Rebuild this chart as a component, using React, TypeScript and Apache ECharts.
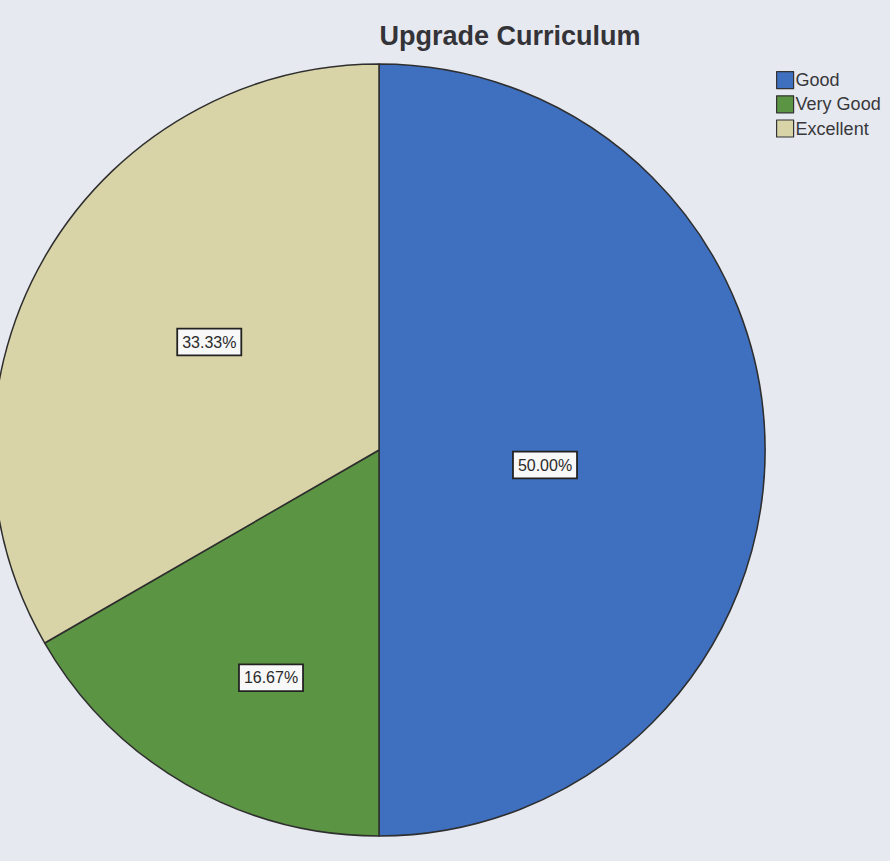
import React, { useEffect, useRef } from "react";
import * as echarts from "echarts";

const categories = ["Good", "Very Good", "Excellent"];
const counts = [3, 1, 2];
const colors = ["#3f6fbf", "#5b9442", "#d9d4a8"];
const chartTitle = "Upgrade Curriculum";

// small per-label nudges (style only) to mimic SPSS label placement
const labelNudge = [
  { dx: -30, dy: 15 },
  { dx: -10, dy: 58 },
  { dx: 0, dy: -10 },
];

export default function App() {
  const ref = useRef<HTMLDivElement>(null);
  useEffect(() => {
    if (!ref.current) return;
    const chart = echarts.init(ref.current, null, { renderer: "svg" });
    const total = counts.reduce((a, b) => a + b, 0);
    chart.setOption({
      animation: false,
      backgroundColor: "#e6e9ef",
      title: {
        text: chartTitle,
        left: 505,
        top: 17,
        textAlign: "center",
        textStyle: {
          fontFamily: "Liberation Sans, Arial, sans-serif",
          fontWeight: "bold",
          fontSize: 27,
          color: "#333338",
        },
      },
      legend: {
        orient: "vertical",
        left: 771,
        top: 66,
        itemWidth: 17,
        itemHeight: 17,
        itemGap: 6,
        icon: "rect",
        data: categories,
        itemStyle: { borderColor: "#333", borderWidth: 1.2 },
        textStyle: {
          fontFamily: "Liberation Sans, Arial, sans-serif",
          fontSize: 18,
          color: "#38383c",
          padding: [0, 0, 0, -3],
        },
      },
      series: [
        {
          type: "pie",
          center: [379, 450],
          radius: 386,
          startAngle: 90,
          clockwise: true,
          avoidLabelOverlap: false,
          emphasis: { disabled: true },
          itemStyle: { borderColor: "#2e2e2e", borderWidth: 1.5 },
          label: {
            show: true,
            position: "inside",
            formatter: (p: any) => ((p.value / total) * 100).toFixed(2) + "%",
            backgroundColor: "#f8f8f8",
            borderColor: "#222",
            borderWidth: 1.8,
            padding: [5, 4, 4, 4],
            color: "#2a2a2a",
            fontFamily: "Liberation Sans, Arial, sans-serif",
            fontSize: 16,
          },
          labelLine: { show: false },
          labelLayout: (params: any) => labelNudge[params.dataIndex] || {},
          data: categories.map((name, i) => ({
            name,
            value: counts[i],
            itemStyle: { color: colors[i] },
          })),
        },
      ],
    });
    return () => chart.dispose();
  }, []);
  return (
    <div
      ref={ref}
      style={{ position: "fixed", left: 0, top: 0, width: 890, height: 861 }}
    />
  );
}
